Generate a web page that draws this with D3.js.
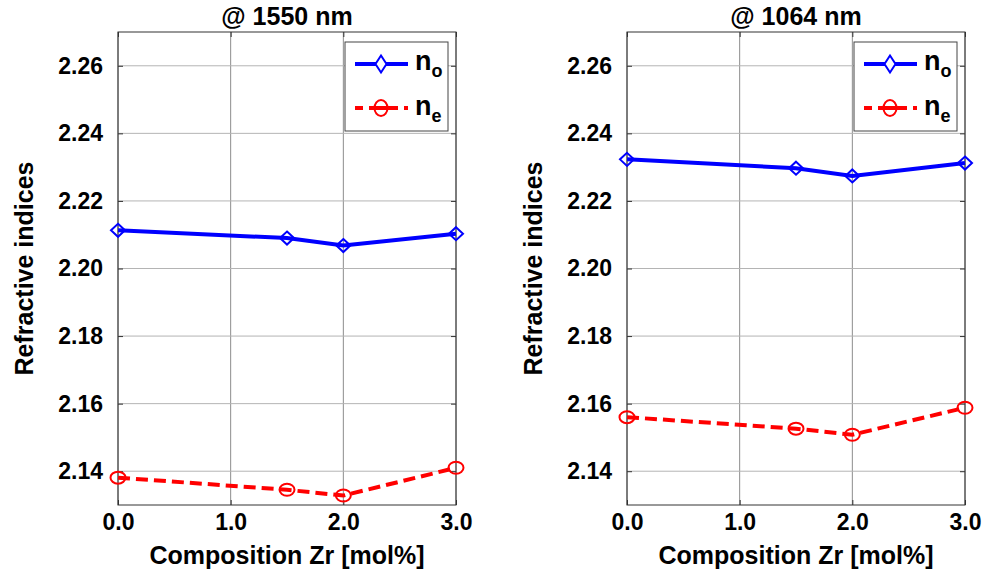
<!DOCTYPE html>
<html><head><meta charset="utf-8">
<script src="https://cdn.jsdelivr.net/npm/d3@7"></script>
<style>body{margin:0;background:#fff}svg{display:block}text{font-family:"Liberation Sans",Arial,sans-serif;font-weight:bold}</style>
</head><body>
<script>
const composition = [0.0, 1.5, 2.0, 3.0];
const xTicks = [0, 1, 2, 3];
const yTicks = [2.14, 2.16, 2.18, 2.20, 2.22, 2.24, 2.26];
const titles = ["@ 1550 nm", "@ 1064 nm"];
const no1550 = [2.2113, 2.2090, 2.2068, 2.2103];
const ne1550 = [2.1381, 2.1345, 2.1328, 2.1410];
const no1064 = [2.2323, 2.2297, 2.2274, 2.2312];
const ne1064 = [2.1560, 2.1526, 2.1508, 2.1588];
const panels = [[no1550, ne1550], [no1064, ne1064]];

const W = 982, H = 573;
const svg = d3.select("body").append("svg").attr("width", W).attr("height", H);
const lefts = [118, 627];
const pw = 338, topY = 32, bottomY = 505;

function diamondPath(w, h) {
  return `M0,${-h / 2}L${w / 2},0L0,${h / 2}L${-w / 2},0Z`;
}

panels.forEach((pd, i) => {
  const x = d3.scaleLinear().domain([0, 3]).range([lefts[i], lefts[i] + pw]);
  const y = d3.scaleLinear().domain([2.13, 2.27]).range([bottomY, topY]);
  const g = svg.append("g");
  g.selectAll(".gx").data(xTicks).join("line")
    .attr("x1", d => x(d)).attr("x2", d => x(d)).attr("y1", topY).attr("y2", bottomY)
    .attr("stroke", "#8c8c8c").attr("stroke-width", 1);
  g.selectAll(".gy").data(yTicks).join("line")
    .attr("y1", d => y(d)).attr("y2", d => y(d)).attr("x1", x(0)).attr("x2", x(3))
    .attr("stroke", "#b4b4b4").attr("stroke-width", 1);
  const styleAxis = a => { a.select(".domain").remove(); a.selectAll("text").attr("font-size", 23).attr("fill", "#000").style("font-family", "Liberation Sans, Arial").style("font-weight", "bold"); a.selectAll("line").attr("stroke", "#333"); };
  g.append("g").attr("transform", `translate(0,${bottomY})`)
    .call(d3.axisBottom(x).tickValues(xTicks).tickSizeInner(-5).tickSizeOuter(0).tickPadding(9).tickFormat(d3.format(".1f")))
    .call(styleAxis);
  g.append("g").attr("transform", `translate(${x(0)},0)`)
    .call(d3.axisLeft(y).tickValues(yTicks).tickSizeInner(-5).tickSizeOuter(0).tickPadding(15).tickFormat(d3.format(".2f")))
    .call(styleAxis);
  g.append("g").attr("transform", `translate(${x(3)},0)`)
    .call(d3.axisRight(y).tickValues(yTicks).tickSizeInner(-5).tickSizeOuter(0).tickFormat(""))
    .call(styleAxis);
  g.append("g").attr("transform", `translate(0,${topY})`)
    .call(d3.axisTop(x).tickValues(xTicks).tickSizeInner(-5).tickSizeOuter(0).tickFormat(""))
    .call(styleAxis);
  g.append("rect").attr("x", x(0)).attr("y", topY).attr("width", pw).attr("height", bottomY - topY)
    .attr("fill", "none").attr("stroke", "#333").attr("stroke-width", 1);
  g.append("text").attr("x", x(1.5)).attr("y", 25).attr("text-anchor", "middle").attr("font-size", 25).text(titles[i]);
  g.append("text").attr("x", x(1.5)).attr("y", 564).attr("text-anchor", "middle").attr("font-size", 25).text("Composition Zr [mol%]");
  g.append("text").attr("transform", `translate(${lefts[i] - 85},${(topY + bottomY) / 2}) rotate(-90)`)
    .attr("text-anchor", "middle").attr("font-size", 25).text("Refractive indices");
  const line = d3.line().x((d, j) => x(composition[j])).y(d => y(d));
  g.append("path").datum(pd[0]).attr("d", line).attr("fill", "none").attr("stroke", "#0000ff").attr("stroke-width", 4);
  g.append("path").datum(pd[1]).attr("d", line).attr("fill", "none").attr("stroke", "#ff0000").attr("stroke-width", 4).attr("stroke-dasharray", "12,6");
  g.selectAll(".mo").data(pd[0]).join("path")
    .attr("transform", (d, j) => `translate(${x(composition[j])},${y(d)})`)
    .attr("d", diamondPath(14, 13)).attr("fill", "none").attr("stroke", "#0000ff").attr("stroke-width", 2);
  g.selectAll(".me").data(pd[1]).join("ellipse")
    .attr("cx", (d, j) => x(composition[j])).attr("cy", d => y(d)).attr("rx", 7.5).attr("ry", 6)
    .attr("fill", "none").attr("stroke", "#ff0000").attr("stroke-width", 2);
  const lx = lefts[i] + 227, ly = 42;
  const lg = g.append("g");
  lg.append("rect").attr("x", lx).attr("y", ly).attr("width", 103).attr("height", 89)
    .attr("fill", "#fff").attr("stroke", "#444").attr("stroke-width", 1);
  lg.append("line").attr("x1", lx + 10).attr("x2", lx + 63).attr("y1", ly + 22).attr("y2", ly + 22)
    .attr("stroke", "#0000ff").attr("stroke-width", 4);
  lg.append("path").attr("transform", `translate(${lx + 36},${ly + 22})`).attr("d", diamondPath(11, 17))
    .attr("fill", "#fff").attr("stroke", "#0000ff").attr("stroke-width", 2);
  lg.append("line").attr("x1", lx + 10).attr("x2", lx + 63).attr("y1", ly + 66).attr("y2", ly + 66)
    .attr("stroke", "#ff0000").attr("stroke-width", 4).attr("stroke-dasharray", "8,6,29,6");
  lg.append("ellipse").attr("cx", lx + 36).attr("cy", ly + 66).attr("rx", 6.5).attr("ry", 8)
    .attr("fill", "none").attr("stroke", "#ff0000").attr("stroke-width", 2);
  const t1 = lg.append("text").attr("x", lx + 70).attr("y", ly + 28).attr("font-size", 27);
  t1.append("tspan").text("n");
  t1.append("tspan").attr("font-size", 18).attr("dy", 7).text("o");
  const t2 = lg.append("text").attr("x", lx + 70).attr("y", ly + 73).attr("font-size", 27);
  t2.append("tspan").text("n");
  t2.append("tspan").attr("font-size", 18).attr("dy", 7).text("e");
});
</script>
</body></html>
